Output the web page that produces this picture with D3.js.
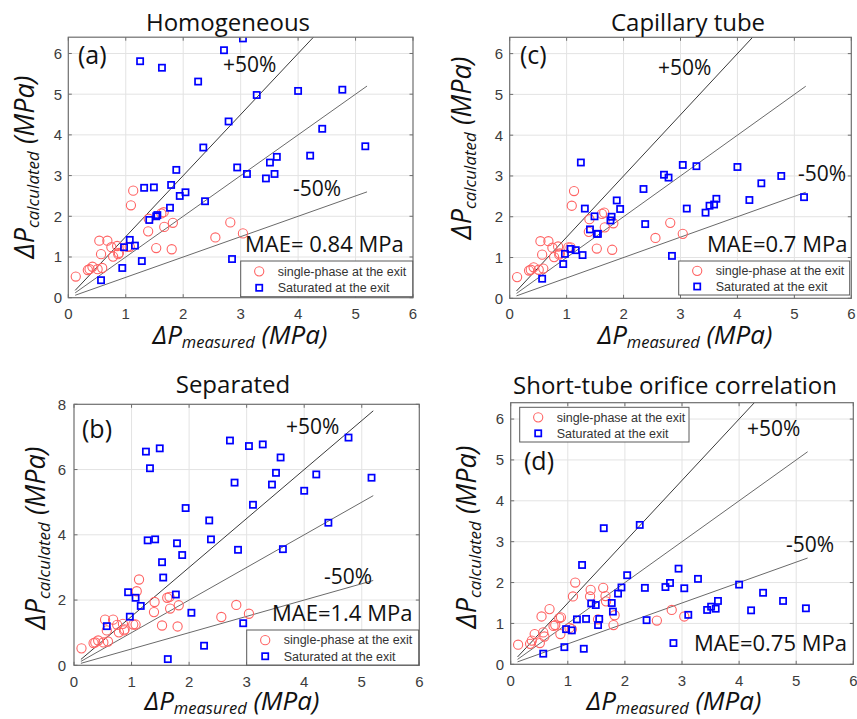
<!DOCTYPE html>
<html>
<head>
<meta charset="utf-8">
<script src="https://cdn.jsdelivr.net/npm/d3@7"></script>
<style>
  body { margin: 0; background: #fff; }
  svg { display: block; }
  text { white-space: pre; }
</style>
</head>
<body>
<svg id="fig" width="857" height="719"></svg>
<script>
// ---- Data (MPa) -------------------------------------------------------
// Saturated-at-exit cases: measured pressure drop, shared by all models
const measuredSat = [0.57,0.94,0.97,1.07,1.16,1.25,1.28,1.32,1.41,1.49,1.53,1.55,1.63,1.77,1.79,1.88,1.94,2.04,2.26,2.35,2.38,2.71,2.79,2.85,2.94,3.04,3.11,3.28,3.44,3.51,3.59,3.63,4.00,4.21,4.42,4.77,5.17];
// Calculated pressure drop for each model (null = not plotted)
const homogeneousSat = [0.43,0.73,1.24,1.42,1.28,5.81,0.90,2.70,1.91,2.71,2.00,2.03,5.65,2.21,2.77,3.14,2.50,2.59,5.31,3.69,2.37,6.08,4.33,0.95,3.20,6.37,3.04,4.98,2.93,3.32,3.04,3.46,5.08,3.49,4.15,5.11,3.72];
const separatedSat   = [1.20,2.24,1.49,2.07,1.82,6.55,3.83,6.04,3.86,6.65,3.16,2.69,0.19,2.17,3.74,3.38,4.82,1.61,0.60,4.44,3.86,6.89,5.60,3.54,1.29,6.72,4.92,6.77,5.54,5.90,6.37,3.56,5.35,5.85,4.37,6.98,5.75];
const capillarySat   = [0.48,0.84,1.09,1.21,1.18,3.33,1.06,2.20,1.69,2.01,1.58,1.58,null,1.91,2.00,2.40,2.19,null,null,2.68,1.82,3.03,2.96,1.04,null,3.27,2.20,3.24,2.10,2.27,2.30,2.44,3.22,2.41,2.82,3.00,2.48];
const orificeSat     = [0.26,0.42,0.86,0.83,1.10,2.43,0.38,1.11,1.49,1.45,0.96,1.11,3.33,1.50,1.29,1.73,1.88,2.18,3.41,1.87,1.08,1.89,1.99,0.52,2.34,1.86,1.21,2.09,1.33,1.41,1.36,1.55,1.95,1.32,1.75,1.55,1.37];

// Single-phase-at-exit cases
const measuredSingle = [0.13,0.34,0.37,0.42,0.51,0.54,0.57,0.59,0.68,0.75,0.78,0.85,0.87,0.88,1.03,1.07,1.09,1.13,1.39,1.40,1.53,1.62,1.66,1.67,1.80,1.82,2.56,2.82,3.04];
// Single-phase liquid flow gives the same result in the three two-phase models
const modelSingle    = [0.52,0.68,0.70,0.76,0.70,1.40,1.07,0.73,1.40,1.24,1.01,1.27,1.07,1.10,1.25,1.25,2.27,2.63,1.63,1.94,1.22,2.07,2.10,1.74,1.19,1.84,1.48,1.85,1.58];
const orificeSingle  = [0.48,0.50,0.58,0.74,0.52,1.17,0.78,0.68,1.35,0.94,0.96,1.13,0.74,1.15,0.89,0.86,1.66,2.00,1.66,1.82,1.10,1.87,1.67,1.54,0.96,1.20,1.07,1.33,1.17];

// Reference lines: calculated = (1 + deviation) * measured
const deviations = [0.5, 0, -0.5];
const refRange = [0.12, 5.2];

const xTicks = [0, 1, 2, 3, 4, 5, 6];
const yTicks64 = [0, 1, 2, 3, 4, 5, 6];
const yTicks8 = [0, 2, 4, 6, 8];

const titles = ["Homogeneous", "Separated", "Capillary tube", "Short-tube orifice correlation"];
const tags = ["(a)", "(b)", "(c)", "(d)"];
const maeLabels = ["MAE= 0.84 MPa", "MAE=1.4 MPa", "MAE=0.7 MPa", "MAE=0.75 MPa"];
const legendLabels = ["single-phase at the exit", "Saturated at the exit"];

// ---- Layout ------------------------------------------------------------
const panels = [
  { title: titles[0], tag: tags[0], mae: maeLabels[0], sat: homogeneousSat, single: modelSingle,
    yMax: 6.4, yTicks: yTicks64,
    box: { l: 68.3, r: 413, t: 37.2, b: 297.7 },
    titleXY: [228, 31], tagXY: [78, 64], plusXY: [223, 72], minusXY: [293, 196], maeXY: [245, 252],
    legend: { x: 240.7, y: 261, w: 172, h: 35.7 },
    yLab: [34, 167], xLab: [240, 344], xTickY: 319, yTickX: 62 },
  { title: titles[1], tag: tags[1], mae: maeLabels[1], sat: separatedSat, single: modelSingle,
    yMax: 8, yTicks: yTicks8,
    box: { l: 74, r: 419.3, t: 404.3, b: 665.3 },
    titleXY: [233, 393], tagXY: [82, 438], plusXY: [286, 434], minusXY: [324, 584], maeXY: [272, 621],
    legend: { x: 246.7, y: 630, w: 172, h: 35 },
    yLab: [45, 538], xLab: [232, 710], xTickY: 687, yTickX: 66 },
  { title: titles[2], tag: tags[2], mae: maeLabels[2], sat: capillarySat, single: modelSingle,
    yMax: 6.4, yTicks: yTicks64,
    box: { l: 509.7, r: 851.3, t: 37.3, b: 298.3 },
    titleXY: [688, 31], tagXY: [520, 64], plusXY: [658, 75], minusXY: [798, 181], maeXY: [707, 252],
    legend: { x: 678.7, y: 261, w: 171, h: 34 },
    yLab: [471, 148], xLab: [685, 344], xTickY: 319, yTickX: 503 },
  { title: titles[3], tag: tags[3], mae: maeLabels[3], sat: orificeSat, single: orificeSingle,
    yMax: 6.4, yTicks: yTicks64,
    box: { l: 510.7, r: 853.3, t: 402.7, b: 664.3 },
    titleXY: [675, 394], tagXY: [524, 470], plusXY: [747, 436], minusXY: [786, 552], maeXY: [694, 651],
    legend: { x: 519.7, y: 407.3, w: 169.3, h: 34.7 },
    yLab: [476, 537], xLab: [674, 710], xTickY: 685.5, yTickX: 504 }
];

const COL = {
  grid: "#e3e3e3", frame: "#6e6e6e", tick: "#3c3c3c",
  red: "#ff6464", blue: "#0000ff", text: "#111"
};
const SANS = "'Liberation Sans', Arial, sans-serif";
const HUM = "'Open Sans', 'Noto Sans', sans-serif";

const svg = d3.select("#fig");

panels.forEach((p, i) => {
  const g = svg.append("g");
  const x = d3.scaleLinear().domain([0, 6]).range([p.box.l, p.box.r]);
  const y = d3.scaleLinear().domain([0, p.yMax]).range([p.box.b, p.box.t]);
  const clipId = "clip" + i;

  g.append("clipPath").attr("id", clipId).append("rect")
    .attr("x", p.box.l).attr("y", p.box.t)
    .attr("width", p.box.r - p.box.l).attr("height", p.box.b - p.box.t);

  // background
  g.append("rect").attr("x", p.box.l).attr("y", p.box.t)
    .attr("width", p.box.r - p.box.l).attr("height", p.box.b - p.box.t)
    .attr("fill", "#fff");

  // grid
  g.append("g").selectAll("line").data(xTicks.slice(1, -1)).join("line")
    .attr("x1", d => x(d)).attr("x2", d => x(d))
    .attr("y1", p.box.t).attr("y2", p.box.b)
    .attr("stroke", COL.grid).attr("stroke-width", 1);
  g.append("g").selectAll("line").data(p.yTicks.filter(v => v > 0 && v < p.yMax)).join("line")
    .attr("y1", d => y(d)).attr("y2", d => y(d))
    .attr("x1", p.box.l).attr("x2", p.box.r)
    .attr("stroke", COL.grid).attr("stroke-width", 1);

  // reference lines
  const plot = g.append("g").attr("clip-path", `url(#${clipId})`);
  plot.selectAll("line.ref").data(deviations).join("line")
    .attr("class", "ref")
    .attr("x1", x(refRange[0])).attr("y1", d => y((1 + d) * refRange[0]))
    .attr("x2", x(refRange[1])).attr("y2", d => y((1 + d) * refRange[1]))
    .attr("stroke", d => d > 0 ? "#3a3a3a" : "#6a6a6a")
    .attr("stroke-width", 1);

  // single-phase points
  const singlePts = measuredSingle.map((m, k) => [m, p.single[k]]).filter(d => d[1] != null);
  plot.append("g").selectAll("circle").data(singlePts).join("circle")
    .attr("cx", d => x(d[0])).attr("cy", d => y(d[1])).attr("r", 4.6)
    .attr("fill", "none").attr("stroke", COL.red).attr("stroke-width", 1.1);

  // saturated points
  const satPts = measuredSat.map((m, k) => [m, p.sat[k]]).filter(d => d[1] != null);
  const s = 6.2;
  plot.append("g").selectAll("rect").data(satPts).join("rect")
    .attr("x", d => x(d[0]) - s / 2).attr("y", d => y(d[1]) - s / 2)
    .attr("width", s).attr("height", s)
    .attr("fill", "none").attr("stroke", COL.blue).attr("stroke-width", 1.7);

  // frame and inward ticks
  g.append("rect").attr("x", p.box.l).attr("y", p.box.t)
    .attr("width", p.box.r - p.box.l).attr("height", p.box.b - p.box.t)
    .attr("fill", "none").attr("stroke", COL.frame).attr("stroke-width", 1.2);
  const tl = 3.5;
  const tk = g.append("g").attr("stroke", COL.frame).attr("stroke-width", 1);
  xTicks.forEach(v => {
    tk.append("line").attr("x1", x(v)).attr("x2", x(v)).attr("y1", p.box.b).attr("y2", p.box.b - tl);
    tk.append("line").attr("x1", x(v)).attr("x2", x(v)).attr("y1", p.box.t).attr("y2", p.box.t + tl);
  });
  p.yTicks.forEach(v => {
    tk.append("line").attr("y1", y(v)).attr("y2", y(v)).attr("x1", p.box.l).attr("x2", p.box.l + tl);
    tk.append("line").attr("y1", y(v)).attr("y2", y(v)).attr("x1", p.box.r).attr("x2", p.box.r - tl);
  });

  // tick labels
  g.append("g").selectAll("text").data(xTicks).join("text")
    .attr("x", d => x(d)).attr("y", p.xTickY)
    .attr("text-anchor", "middle").attr("font-family", SANS).attr("font-size", 15)
    .attr("fill", COL.tick).text(d => d);
  g.append("g").selectAll("text").data(p.yTicks).join("text")
    .attr("x", p.yTickX).attr("y", d => y(d) + 5.4)
    .attr("text-anchor", "end").attr("font-family", SANS).attr("font-size", 15)
    .attr("fill", COL.tick).text(d => d);

  // in-plot annotations
  const ann = (xy, txt, size, anchor) => g.append("text")
    .attr("x", xy[0]).attr("y", xy[1]).attr("text-anchor", anchor || "start")
    .attr("font-family", HUM).attr("font-size", size).attr("fill", COL.text).text(txt);
  ann(p.tagXY, p.tag, 25);
  ann(p.plusXY, "+50%", 21);
  ann(p.minusXY, "-50%", 21);
  ann(p.maeXY, p.mae, 22);

  // legend
  const L = p.legend;
  const lg = g.append("g");
  lg.append("rect").attr("x", L.x).attr("y", L.y).attr("width", L.w).attr("height", L.h)
    .attr("fill", "#fff").attr("stroke", "#5a5a5a").attr("stroke-width", 1);
  const rowY = [L.y + L.h * 0.29, L.y + L.h * 0.75];
  const mx = L.x + 18.5;
  lg.append("circle").attr("cx", mx).attr("cy", rowY[0]).attr("r", 4.6)
    .attr("fill", "none").attr("stroke", COL.red).attr("stroke-width", 1.1);
  lg.append("rect").attr("x", mx - s / 2).attr("y", rowY[1] - s / 2).attr("width", s).attr("height", s)
    .attr("fill", "none").attr("stroke", COL.blue).attr("stroke-width", 1.7);
  legendLabels.forEach((t, k) => {
    lg.append("text").attr("x", L.x + 37).attr("y", rowY[k] + 4.3)
      .attr("font-family", SANS).attr("font-size", 12.5).attr("fill", "#333").text(t);
  });

  // title
  ann(p.titleXY, p.title, 24, "middle");

  // axis labels with subscripts
  const yl = g.append("text")
    .attr("transform", `translate(${p.yLab[0]},${p.yLab[1]}) rotate(-90)`)
    .attr("text-anchor", "middle").attr("font-family", HUM).attr("font-style", "italic")
    .attr("fill", COL.text);
  yl.append("tspan").attr("font-size", 27).text("ΔP");
  yl.append("tspan").attr("font-size", 17).attr("dy", 4.5).text("calculated");
  yl.append("tspan").attr("font-size", 27).attr("dy", -4.5).text(" (MPa)");

  const xl = g.append("text")
    .attr("x", p.xLab[0]).attr("y", p.xLab[1])
    .attr("text-anchor", "middle").attr("font-family", HUM).attr("font-style", "italic")
    .attr("fill", COL.text);
  xl.append("tspan").attr("font-size", 26).text("ΔP");
  xl.append("tspan").attr("font-size", 16.5).attr("dy", 4).text("measured");
  xl.append("tspan").attr("font-size", 26).attr("dy", -4).text(" (MPa)");
});
</script>
</body>
</html>
